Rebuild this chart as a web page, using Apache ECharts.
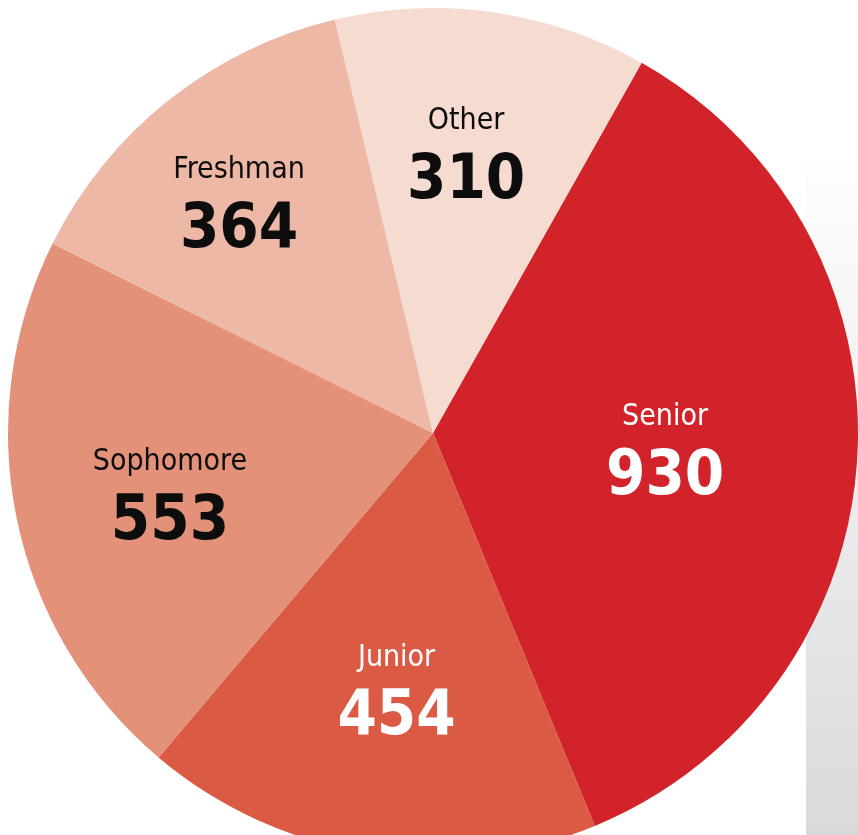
<!DOCTYPE html>
<html>
<head>
<meta charset="utf-8">
<script src="https://cdn.jsdelivr.net/npm/echarts@6/dist/echarts.min.js"></script>
<style>
  html, body { margin: 0; padding: 0; background: #fff; }
  #chart { width: 858px; height: 835px; }
</style>
</head>
<body>
<div id="chart"></div>
<script>
const categories = ['Senior', 'Junior', 'Sophomore', 'Freshman', 'Other'];
const counts = [930, 454, 553, 364, 310];

// slice colours and label tweaks, same order as categories
const colors = ['#D2232A', '#DB5A44', '#E4917A', '#EDB8A6', '#F5DBD0'];
const textColors = ['#fff', '#fff', '#0d0d0d', '#0d0d0d', '#0d0d0d'];
const labelOffsets = [[17, 6], [-3, 47], [-52, 21], [-60, -59], [3, -63]];

const font = '"DejaVu Sans Condensed", "Liberation Sans Narrow", sans-serif';

const chart = echarts.init(document.getElementById('chart'));

chart.setOption({
  animation: false,
  graphic: [
    {
      type: 'rect',
      z: 0,
      shape: { x: 806, y: 158, width: 52, height: 677 },
      style: {
        fill: new echarts.graphic.LinearGradient(0, 0, 0, 1, [
          { offset: 0, color: '#fefefe' },
          { offset: 1, color: '#d9dadc' },
        ]),
      },
    },
  ],
  series: [
    {
      type: 'pie',
      z: 2,
      center: [433, 433],
      radius: [0, 425],
      startAngle: 60.6,
      clockwise: true,
      avoidLabelOverlap: false,
      itemStyle: { borderWidth: 0 },
      emphasis: { disabled: true },
      labelLine: { show: false },
      data: categories.map((name, i) => ({
        name,
        value: counts[i],
        itemStyle: { color: colors[i] },
        label: {
          color: textColors[i],
          offset: labelOffsets[i],
        },
      })),
      label: {
        show: true,
        position: 'inside',
        formatter: '{n|{b}}\n{v|{c}}',
        rich: {
          n: {
            fontFamily: font,
            fontSize: 30,
            lineHeight: 50,
            align: 'center',
          },
          v: {
            fontFamily: font,
            fontSize: 63,
            fontWeight: 'bold',
            lineHeight: 70,
            align: 'center',
          },
        },
      },
    },
  ],
});
</script>
</body>
</html>
